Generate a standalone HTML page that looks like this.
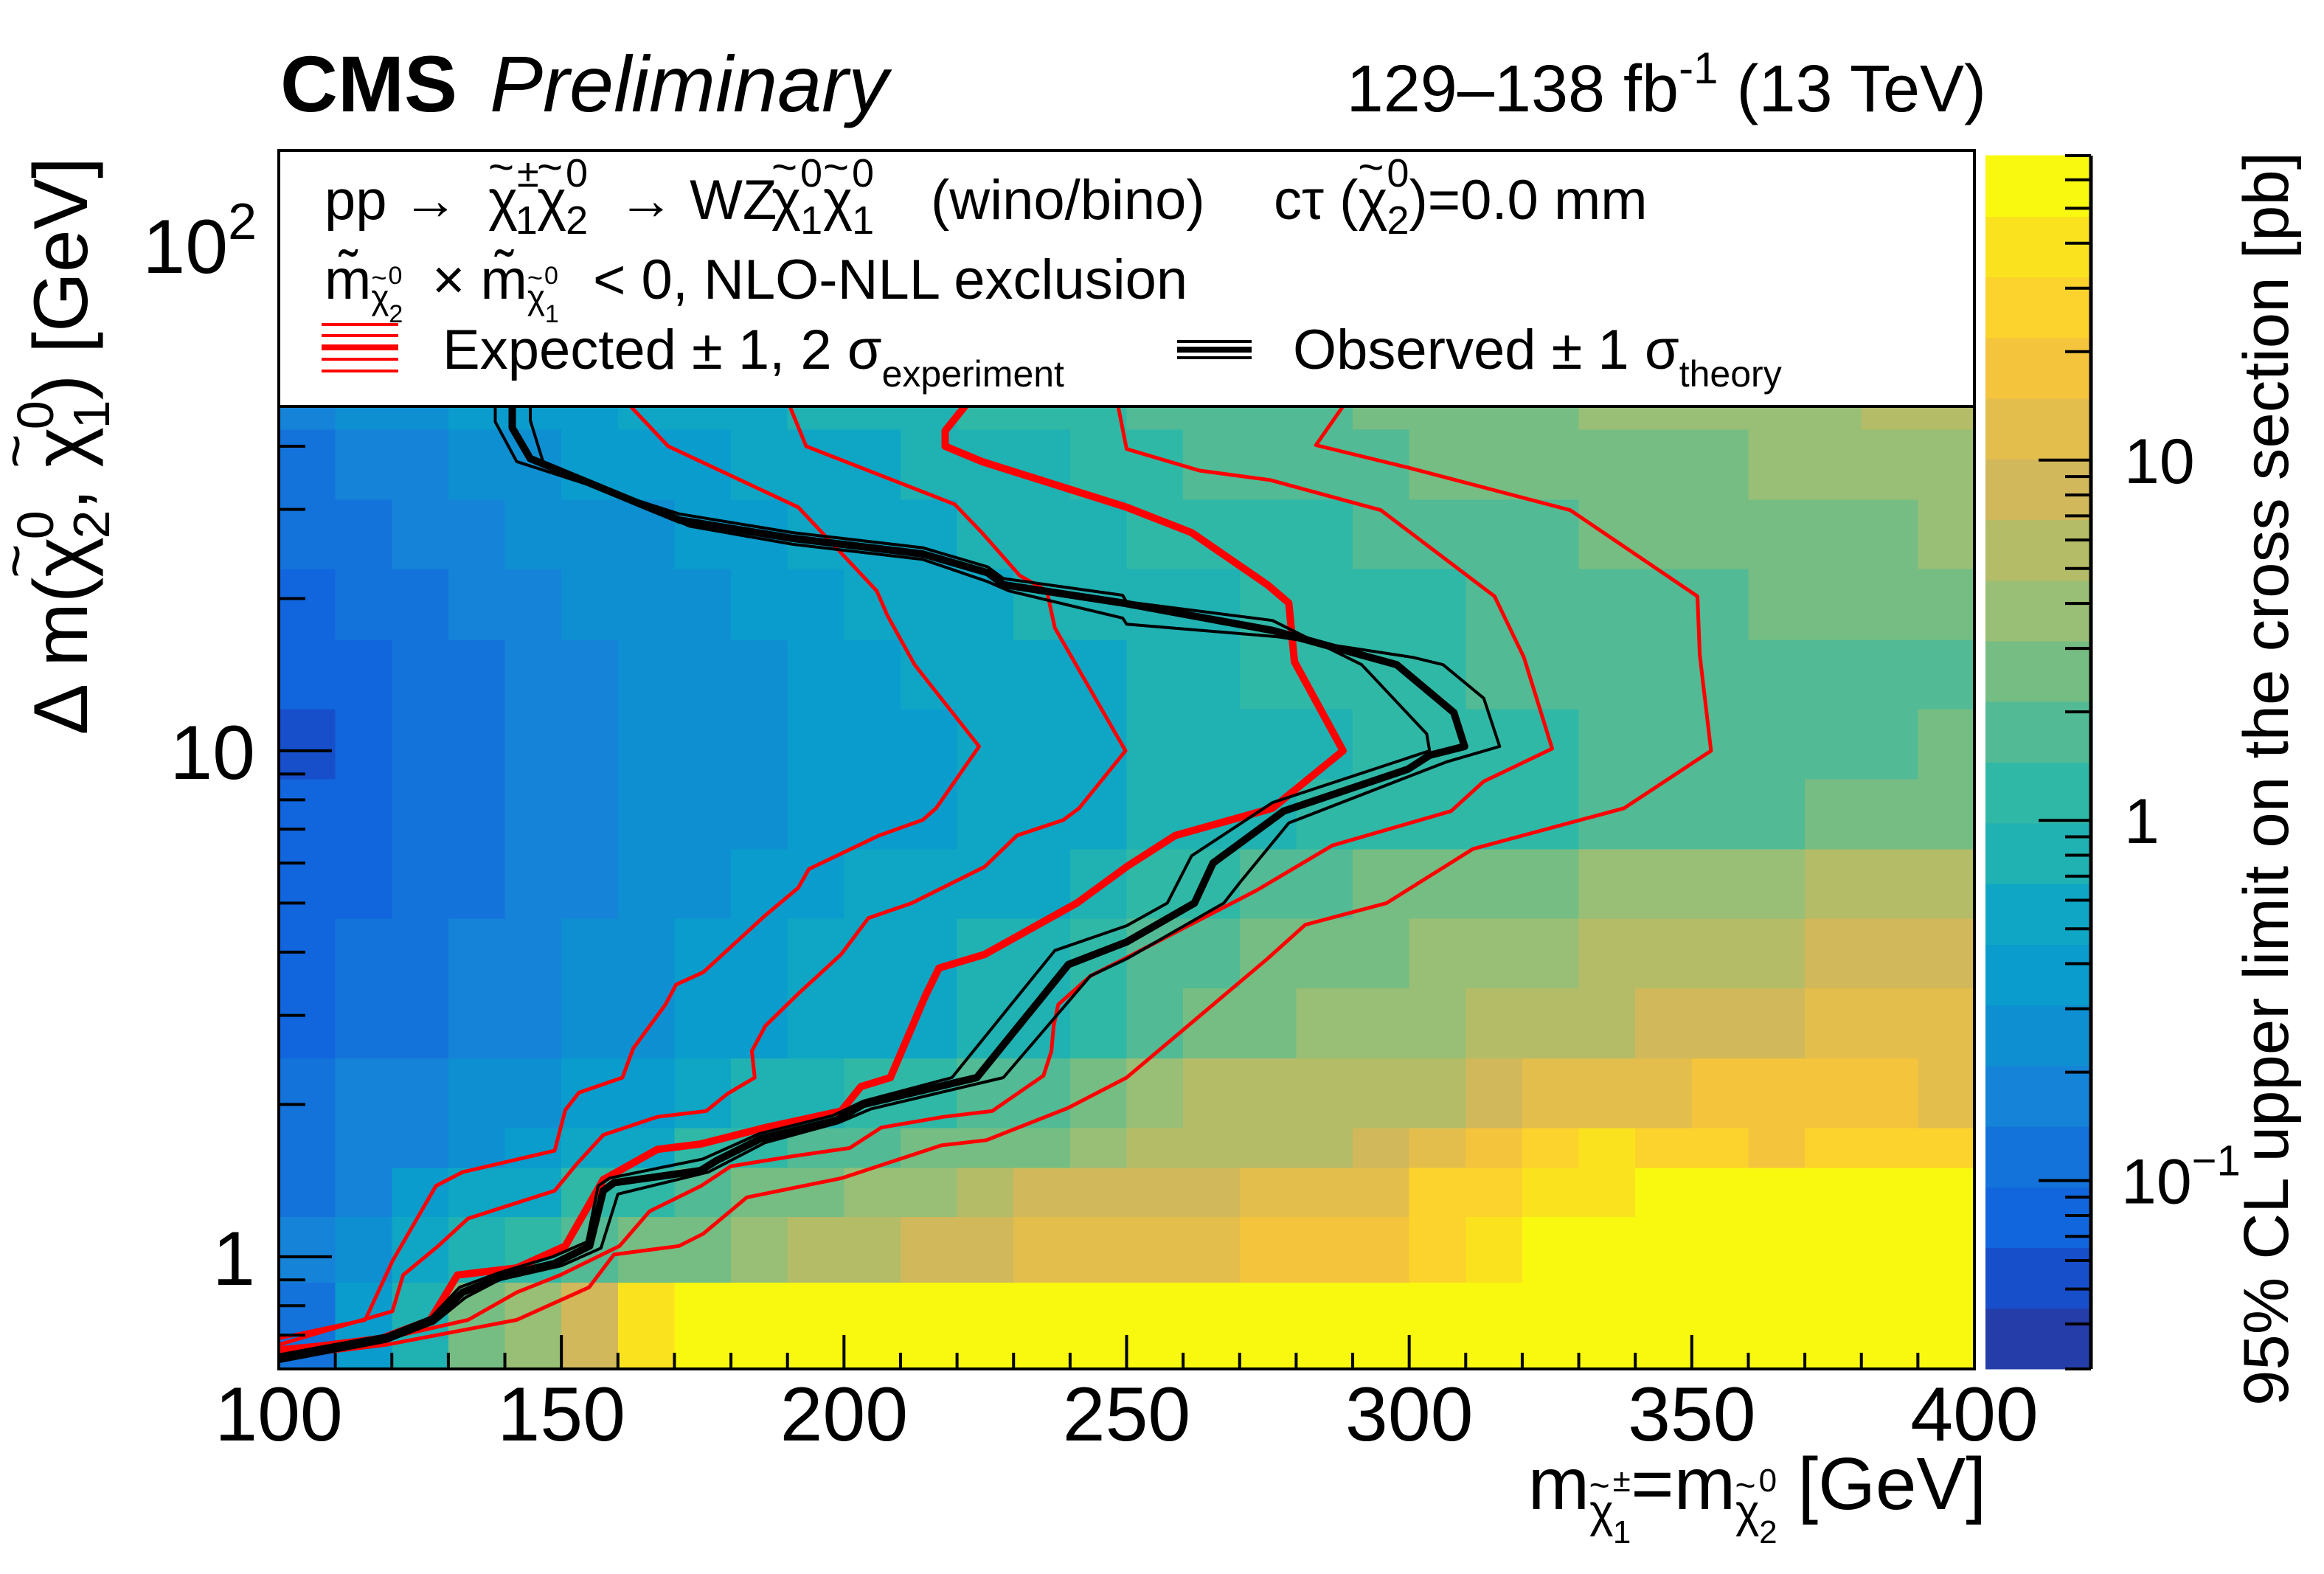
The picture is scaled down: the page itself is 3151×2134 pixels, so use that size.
<!DOCTYPE html>
<html><head><meta charset="utf-8"><title>CMS Preliminary wino/bino exclusion</title>
<style>
html,body{margin:0;padding:0;background:#fff;}
svg{display:block;font-family:"Liberation Sans",Arial,sans-serif;}
</style></head>
<body>
<svg id="chart" xmlns="http://www.w3.org/2000/svg" width="3151" height="2134" viewBox="0 0 3151 2134">
<defs><clipPath id="plotClip"><rect x="378" y="551" width="2299" height="1305"/></clipPath></defs>
<rect x="0" y="0" width="3151" height="2134" fill="#fff"/>
<g id="heatmap" clip-path="url(#plotClip)" shape-rendering="crispEdges"></g>
<g id="curves" clip-path="url(#plotClip)" fill="none" stroke-linejoin="round" stroke-linecap="round"></g>
<g id="axes"></g>
<rect x="378" y="204" width="2299" height="1652" fill="none" stroke="#000" stroke-width="4"/>
<g id="colorbar" shape-rendering="crispEdges"></g>
<g id="cbaxis"></g>

<rect x="378" y="204" width="2299" height="347" fill="#fff" stroke="#000" stroke-width="4"/>
<g font-size="76" fill="#000">
  <text x="440" y="297">pp →</text>
  <text x="662" y="297">χ<tspan dx="-40" dy="-50" font-size="60">~</tspan><tspan font-size="54" dx="4" dy="6">±</tspan><tspan font-size="54" dx="-32" dy="64">1</tspan></text>
  <text x="728" y="297">χ<tspan dx="-40" dy="-50" font-size="60">~</tspan><tspan font-size="54" dx="4" dy="6">0</tspan><tspan font-size="54" dx="-30" dy="64">2</tspan></text>
  <text x="838" y="297">→ WZ</text>
  <text x="1046" y="297">χ<tspan dx="-40" dy="-50" font-size="60">~</tspan><tspan font-size="54" dx="4" dy="6">0</tspan><tspan font-size="54" dx="-30" dy="64">1</tspan></text>
  <text x="1116" y="297">χ<tspan dx="-40" dy="-50" font-size="60">~</tspan><tspan font-size="54" dx="4" dy="6">0</tspan><tspan font-size="54" dx="-30" dy="64">1</tspan></text>
  <text x="1262" y="297">(wino/bino)</text>
  <text x="1727" y="297">cτ (χ<tspan dx="-40" dy="-50" font-size="60">~</tspan><tspan font-size="54" dx="4" dy="6">0</tspan><tspan font-size="54" dx="-30" dy="64">2</tspan><tspan dy="-20">)=0.0 mm</tspan></text>
  <text x="440" y="405">m̃<tspan font-size="46" dy="14">χ</tspan><tspan dx="-24" dy="-30" font-size="36">~</tspan><tspan font-size="34" dx="2" dy="-4">0</tspan><tspan font-size="34" dx="-18" dy="52">2</tspan></text>
  <text x="586" y="405">× m̃<tspan font-size="46" dy="14">χ</tspan><tspan dx="-24" dy="-30" font-size="36">~</tspan><tspan font-size="34" dx="2" dy="-4">0</tspan><tspan font-size="34" dx="-18" dy="52">1</tspan></text>
  <text x="804" y="405">&lt; 0, NLO-NLL exclusion</text>
  <g stroke="#ff0000">
    <line x1="436" x2="540" y1="440" y2="440" stroke-width="4"/>
    <line x1="436" x2="540" y1="455" y2="455" stroke-width="4"/>
    <line x1="436" x2="540" y1="471" y2="471" stroke-width="8"/>
    <line x1="436" x2="540" y1="487" y2="487" stroke-width="4"/>
    <line x1="436" x2="540" y1="503" y2="503" stroke-width="4"/>
  </g>
  <text x="600" y="500">Expected ± 1, 2 σ<tspan font-size="50" dy="24">experiment</tspan></text>
  <g stroke="#000">
    <line x1="1596" x2="1697" y1="463" y2="463" stroke-width="4"/>
    <line x1="1596" x2="1697" y1="474" y2="474" stroke-width="8"/>
    <line x1="1596" x2="1697" y1="485" y2="485" stroke-width="4"/>
  </g>
  <text x="1753" y="500">Observed ± 1 σ<tspan font-size="50" dy="24">theory</tspan></text>
</g>

<text x="380" y="151" font-size="108" font-weight="bold">CMS</text>
<text x="664" y="151" font-size="108" font-style="italic">Preliminary</text>
<text x="2693" y="151" font-size="90" text-anchor="end">129–138 fb<tspan font-size="60" dy="-38">-1</tspan><tspan dy="38"> (13 TeV)</tspan></text>

<text x="2693" y="2046" font-size="100" text-anchor="end">m<tspan font-size="62" dy="24">χ</tspan><tspan dx="-33" dy="-40" font-size="48">~</tspan><tspan font-size="44" dx="4" dy="-8">±</tspan><tspan font-size="44" dx="-24" dy="70">1</tspan><tspan dy="-46">=m</tspan><tspan font-size="62" dy="24">χ</tspan><tspan dx="-33" dy="-40" font-size="48">~</tspan><tspan font-size="44" dx="4" dy="-8">0</tspan><tspan font-size="44" dx="-24" dy="70">2</tspan><tspan dy="-46"> [GeV]</tspan></text>

<text transform="translate(118,213) rotate(-90)" x="0" y="0" font-size="104" text-anchor="end">Δ m(χ<tspan dx="-56" dy="-70" font-size="80">~</tspan><tspan font-size="70" dx="6" dy="24">0</tspan><tspan font-size="70" dx="-38" dy="76">2</tspan><tspan dy="-30">, χ</tspan><tspan dx="-56" dy="-70" font-size="80">~</tspan><tspan font-size="70" dx="6" dy="24">0</tspan><tspan font-size="70" dx="-38" dy="76">1</tspan><tspan dy="-30">) [GeV]</tspan></text>

<text transform="translate(3102,1056) rotate(-90)" x="0" y="0" font-size="86" text-anchor="middle" textLength="1700" lengthAdjust="spacingAndGlyphs">95% CL upper limit on the cross section [pb]</text>
</svg>

<script>
// ---------------- data ----------------
const xBinEdges = [100,110,120,130,140,150,160,170,180,190,200,210,220,230,240,250,260,270,280,290,300,310,320,330,340,350,360,370,380,390,400];
const yBinEdges = [0.6,0.89,1.2,1.5,1.8,2.47,3.4,4.67,6.4,8.8,12.1,16.6,22.9,31.4,43.2,59.3];
// 95% CL upper limits [pb]; row 0 = lowest Δm bin
const limitGrid = [
 [0.11,0.34,0.73,2.3,3.4,7.3,34,60,60,60,60,60,60,60,60,60,60,60,60,60,60,60,60,60,60,60,60,60,60,60],
 [0.16,0.23,0.5,0.73,1.1,1.6,2.3,2.3,3.4,5,5,7.3,7.3,11,11,11,11,16,16,16,23,34,60,60,60,60,60,60,60,60],
 [0.11,0.16,0.34,0.5,0.5,1.1,1.1,1.6,2.3,2.3,3.4,3.4,5,7.3,7.3,7.3,7.3,11,11,11,23,23,34,34,60,60,60,60,60,60],
 [0.11,0.16,0.16,0.23,0.34,0.5,0.5,1.1,1.1,1.6,1.6,2.3,2.3,2.3,3.4,5,5,5,5,7.3,11,16,23,34,23,23,16,23,23,23],
 [0.11,0.16,0.16,0.23,0.23,0.34,0.34,0.5,0.73,0.73,1.1,1.1,1.6,1.6,2.3,3.4,5,5,5,5,5,7.3,11,11,11,16,16,16,16,11],
 [0.073,0.11,0.11,0.16,0.16,0.23,0.23,0.34,0.34,0.5,0.5,0.5,0.73,0.73,1.1,1.6,2.3,2.3,3.4,3.4,3.4,5,5,5,7.3,7.3,7.3,11,11,11],
 [0.073,0.11,0.11,0.16,0.16,0.23,0.23,0.34,0.34,0.5,0.5,0.5,0.73,0.73,1.1,1.6,1.6,2.3,2.3,2.3,3.4,3.4,3.4,5,5,5,5,7.3,7.3,7.3],
 [0.073,0.073,0.11,0.11,0.16,0.16,0.23,0.23,0.34,0.34,0.5,0.5,0.5,0.5,0.73,1.1,1.1,1.6,1.6,2.3,2.3,2.3,2.3,3.4,3.4,3.4,3.4,5,5,5],
 [0.073,0.073,0.11,0.11,0.16,0.16,0.23,0.23,0.23,0.34,0.34,0.34,0.5,0.5,0.5,0.73,0.73,0.73,1.1,1.1,1.1,1.1,1.1,1.6,1.6,1.6,1.6,2.3,2.3,2.3],
 [0.05,0.073,0.11,0.11,0.16,0.16,0.23,0.23,0.23,0.34,0.34,0.34,0.5,0.5,0.5,0.73,0.73,0.73,0.73,1.1,1.1,1.1,1.1,1.6,1.6,1.6,1.6,1.6,1.6,2.3],
 [0.073,0.073,0.11,0.11,0.16,0.16,0.23,0.23,0.23,0.34,0.34,0.5,0.5,0.5,0.5,0.73,0.73,1.1,1.1,1.1,1.1,1.6,1.6,1.6,1.6,1.6,1.6,1.6,1.6,1.6],
 [0.073,0.11,0.11,0.16,0.16,0.23,0.23,0.23,0.34,0.34,0.5,0.5,0.5,0.73,0.73,0.73,0.73,1.1,1.1,1.1,1.1,1.6,1.6,1.6,1.6,1.6,2.3,2.3,2.3,2.3],
 [0.11,0.11,0.16,0.16,0.23,0.23,0.23,0.34,0.34,0.5,0.5,0.5,0.73,0.73,0.73,1.1,1.1,1.1,1.1,1.6,1.6,1.6,1.6,2.3,2.3,2.3,2.3,2.3,2.3,3.4],
 [0.11,0.16,0.16,0.23,0.23,0.34,0.34,0.34,0.5,0.5,0.5,0.73,0.73,0.73,1.1,1.1,1.6,1.6,1.6,1.6,2.3,2.3,2.3,2.3,2.3,2.3,3.4,3.4,3.4,3.4],
 [0.16,0.23,0.23,0.34,0.34,0.34,0.5,0.5,0.5,0.73,0.73,0.73,1.1,1.1,1.1,1.6,1.6,1.6,1.6,2.3,2.3,2.3,2.3,3.4,3.4,3.4,3.4,3.4,5,5]
];
const paletteColors = ['#253DA8','#174ECA','#1166DD','#1373DB','#1583D8','#0E8FD2','#099CCC','#0EA6C4','#20B1B2','#30B8A6','#52BA94','#76BD83','#99BE76','#B4BC67','#D1B85A','#E3BE4D','#F3C43C','#FCD22C','#FAE31E','#F8F90F'];
const zRange = [0.030, 70];

const obsCentral = [[141.3,60],[141.3,43.5],[144.5,37.8],[170.8,28.6],[190.9,26.3],[213.9,24.5],[225.4,22.5],[228.2,21.3],[249.3,19.6],[275.8,17.3],[297.8,14.8],[307.9,11.9],[309.8,10.2],[303.6,9.8],[299.8,9.2],[277.8,7.6],[265.3,6.0],[262,5.0],[250,4.19],[239.7,3.78],[223.5,2.26],[203.4,2.0],[198.6,1.86],[185.2,1.71],[177.5,1.55],[174.6,1.48],[159.3,1.40],[157.4,1.35],[155,1.05],[148.8,0.97],[140.2,0.92],[132.5,0.85],[127.3,0.75],[118.7,0.69],[100,0.63]];
const obsMinus = [[138.3,60],[138.3,44.7],[142.1,37.3],[170.8,29.4],[190.9,27.0],[213.9,25.2],[225.4,23.1],[228.2,21.9],[249.3,20.3],[250,19.7],[275.8,18.1],[291.6,14.8],[303.1,10.8],[303.6,10.0],[275.8,7.9],[261.5,6.2],[257.2,5.0],[250,4.51],[237.3,4.03],[219.1,2.26],[203.4,2.03],[198,1.90],[185,1.75],[175,1.56],[158.5,1.43],[156.5,1.38],[154.5,1.07],[148.5,1.0],[139,0.93],[132,0.87],[127,0.76],[119,0.70],[100,0.64]];
const obsPlus = [[144.5,60],[144.5,45],[146.9,36.8],[172.7,27.8],[190.9,25.6],[213.9,23.9],[225.4,21.6],[229.2,20.7],[249.3,18.3],[250,17.8],[276.8,16.8],[300.7,15.3],[306,14.8],[313.2,12.7],[316,10.2],[306.5,9.5],[278.7,7.2],[270.1,5.5],[267.2,5.0],[250,3.88],[243.6,3.59],[228.2,2.26],[204.8,1.96],[199,1.84],[186,1.68],[176,1.47],[160,1.33],[157,1.04],[150,0.96],[139,0.90],[133,0.83],[127.5,0.74],[119,0.68],[100,0.62]];
const expCentral = [[221.4,60],[221.4,48],[217.9,42.9],[217.9,40],[224.4,37.3],[250,30.3],[261.5,27],[274.9,21.3],[278.7,19.6],[279.7,15.0],[288.3,10.0],[275.8,7.7],[258.6,6.8],[250,5.9],[241.2,5.0],[224.9,3.96],[216.8,3.72],[214.4,3.28],[208.2,2.26],[203,2.17],[199.5,1.94],[186.1,1.80],[174.6,1.67],[167,1.63],[157.4,1.42],[150.7,1.05],[142.1,0.95],[131.6,0.92],[126.8,0.75],[118.2,0.69],[100,0.65]];
const expPlus1 = [[248.3,60],[248.5,48],[250,39.5],[262.9,35.8],[275.4,34.3],[295,29.9],[315.1,20.2],[320.3,15.3],[325.3,10.1],[313.2,8.7],[307.4,7.6],[286.4,6.5],[273,5.3],[250,3.9],[243.6,3.59],[237.9,3.15],[237.1,2.86],[236.7,2.55],[235.3,2.28],[226.2,1.94],[217.6,1.89],[206.6,1.80],[201,1.64],[190.9,1.58],[180,1.51],[174.7,1.38],[165.6,1.23],[160.3,1.05],[149.8,0.92],[142.1,0.85],[133.5,0.75],[119.1,0.69],[100,0.66]];
const expPlus2 = [[290,60],[288.3,48],[283.5,40.2],[299.8,36.3],[328.5,29.9],[351,20.2],[351.4,15.5],[353.4,10.0],[338,7.7],[311.3,6.4],[296,5.0],[281.6,4.53],[274.9,3.88],[250,2.26],[239.7,1.97],[225.2,1.70],[217.2,1.66],[199.6,1.43],[182.8,1.31],[175.1,1.11],[170.8,1.05],[159.3,1.01],[154.9,0.87],[142.1,0.75],[119.1,0.67],[100,0.63]];
const expMinus1 = [[190,60],[190.4,48],[193.3,40],[219.6,30.7],[224.4,27.0],[231.1,22.2],[235.9,20.7],[237.3,17.5],[249.8,10.0],[241.6,7.7],[238.8,7.3],[230.6,6.8],[224.9,5.9],[212,5.0],[204.3,4.67],[199.5,3.96],[191.9,3.31],[186.1,2.86],[183.7,2.55],[184.2,2.26],[179.4,2.10],[175.6,1.94],[167,1.89],[157.4,1.74],[152.6,1.52],[148.8,1.35],[133.5,1.19],[128.2,1.05],[122,0.92],[120.1,0.78],[114.8,0.75],[100,0.67]];
const expMinus2 = [[155,60],[162.2,48],[168.9,40],[191.9,30.3],[205.8,20.7],[207.7,18.5],[212.5,14.8],[223.9,10.2],[216.3,7.7],[213.9,7.3],[206.2,6.8],[193.8,5.84],[191.9,5.36],[186.1,4.73],[175.1,3.65],[170.3,3.45],[168.4,3.15],[162.7,2.58],[160.8,2.26],[153.1,2.11],[150.7,1.95],[148.8,1.62],[132.5,1.47],[127.8,1.38],[120.1,0.98],[115.3,0.75],[100,0.69]];

const xTickMajor = [100,150,200,250,300,350,400];
const xTickLabels = ['100','150','200','250','300','350','400'];
const yTickMajor = [1,10,100];
const cbTickMajor = [0.1,1,10];

// ---------------- scales ----------------
const PX0=378, PX1=2677, PYB=1856, PYT=204, VIS_TOP=551;
const xMin=100, xMax=400, yMin=0.6, yMax=153.7;
function X(v){ return PX0 + (v-xMin)*(PX1-PX0)/(xMax-xMin); }
function Y(v){ return PYB - (Math.log10(v)-Math.log10(yMin))/(Math.log10(yMax)-Math.log10(yMin))*(PYB-PYT); }
const CBX0=2692, CBX1=2835, CBB=1856, CBT=211;
function CY(v){ return CBB - (Math.log10(v)-Math.log10(zRange[0]))/(Math.log10(zRange[1])-Math.log10(zRange[0]))*(CBB-CBT); }
function colorFor(z){
  const t=(Math.log10(z)-Math.log10(zRange[0]))/(Math.log10(zRange[1])-Math.log10(zRange[0]));
  let k=Math.floor(t*paletteColors.length);
  k=Math.max(0,Math.min(paletteColors.length-1,k));
  return paletteColors[k];
}
const NS='http://www.w3.org/2000/svg';
function mk(tag,parent){ const e=document.createElementNS(NS,tag); parent.appendChild(e); return e; }

// ---------------- heatmap ----------------
const hm=document.getElementById('heatmap');
for(let r=0;r<limitGrid.length;r++){
  const y0=Y(yBinEdges[r]), y1=Y(yBinEdges[r+1]);
  for(let c=0;c<limitGrid[r].length;c++){
    const x0=X(xBinEdges[c]), x1=X(xBinEdges[c+1]);
    const cell=mk('rect',hm);
    
    
    cell.setAttribute('x',x0.toFixed(1));
    cell.setAttribute('y',(y1-0.5).toFixed(1));
    cell.setAttribute('width',(x1-x0+1).toFixed(1));
    cell.setAttribute('height',(y0-y1+1).toFixed(1));
    cell.setAttribute('fill',colorFor(limitGrid[r][c]));
  }
}

// ---------------- curves ----------------
const cv=document.getElementById('curves');
function drawCurve(pts,color,width,name){
  const p=mk('polyline',cv);
  
  
  p.setAttribute('points',pts.map(q=>X(q[0]).toFixed(1)+','+Y(q[1]).toFixed(1)).join(' '));
  p.setAttribute('stroke',color);
  p.setAttribute('stroke-width',width);
}
drawCurve(expMinus2,'#ff0000',5,'expected-minus-2sigma');
drawCurve(expMinus1,'#ff0000',5,'expected-minus-1sigma');
drawCurve(expPlus1,'#ff0000',5,'expected-plus-1sigma');
drawCurve(expPlus2,'#ff0000',5,'expected-plus-2sigma');
drawCurve(expCentral,'#ff0000',10,'expected-central');
drawCurve(obsMinus,'#000000',4,'observed-minus-1sigma');
drawCurve(obsPlus,'#000000',4,'observed-plus-1sigma');
drawCurve(obsCentral,'#000000',10,'observed-central');

// ---------------- axes ----------------
const ax=document.getElementById('axes');
function line(parent,x1,y1,x2,y2,w,name){
  const l=mk('line',parent);
  
  
  l.setAttribute('x1',x1); l.setAttribute('y1',y1); l.setAttribute('x2',x2); l.setAttribute('y2',y2);
  l.setAttribute('stroke','#000'); l.setAttribute('stroke-width',w);
}
function label(parent,x,y,txt,size,anchor,name){
  const t=mk('text',parent);
  
  
  t.setAttribute('x',x); t.setAttribute('y',y);
  t.setAttribute('font-size',size); t.setAttribute('text-anchor',anchor);
  t.textContent=txt;
  return t;
}
for(let v=xMin; v<=xMax; v+=10){
  const major = xTickMajor.indexOf(v)>=0;
  line(ax,X(v),PYB,X(v),PYB-(major?46:22),4,major?'x-major-tick':'x-minor-tick');
}
xTickMajor.forEach((v,i)=>{ label(ax,X(v),1953,xTickLabels[i],104,'middle','x-tick-label'); });
for(let d=-1; d<=2; d++){
  for(let m=1; m<=9; m++){
    const v=m*Math.pow(10,d);
    if(v<yMin-1e-9||v>yMax) continue;
    const yy=Y(v);
    if(yy<VIS_TOP) continue;
    const major=(m===1);
    line(ax,PX0,yy,PX0+(major?72:36),yy,4,major?'y-major-tick':'y-minor-tick');
  }
}
label(ax,346,Y(1)+38,'1',104,'end','y-tick-label');
label(ax,346,Y(10)+38,'10',104,'end','y-tick-label');
const t100=label(ax,348,Y(100)+38,'10',104,'end','y-tick-label');
const sup100=mk('tspan',t100);


sup100.setAttribute('font-size','70'); sup100.setAttribute('dy','-46');
sup100.textContent='2';

// ---------------- colorbar ----------------
const cb=document.getElementById('colorbar');
const nB=paletteColors.length;
for(let k=0;k<nB;k++){
  const zLo=Math.pow(10,Math.log10(zRange[0])+k*(Math.log10(zRange[1])-Math.log10(zRange[0]))/nB);
  const zHi=Math.pow(10,Math.log10(zRange[0])+(k+1)*(Math.log10(zRange[1])-Math.log10(zRange[0]))/nB);
  const b=mk('rect',cb);
  
  
  b.setAttribute('x',CBX0); b.setAttribute('y',(CY(zHi)-0.5).toFixed(1));
  b.setAttribute('width',CBX1-CBX0); b.setAttribute('height',(CY(zLo)-CY(zHi)+1).toFixed(1));
  b.setAttribute('fill',paletteColors[k]);
}
const cba=document.getElementById('cbaxis');
line(cba,CBX1,CBT,CBX1,CBB,5,'colorbar-axis-line');
for(let d=-2; d<=1; d++){
  for(let m=1;m<=9;m++){
    const v=m*Math.pow(10,d);
    if(v<zRange[0]||v>zRange[1]) continue;
    const major=(m===1);
    line(cba,CBX1,CY(v),CBX1-(major?71:35),CY(v),4,major?'colorbar-major-tick':'colorbar-minor-tick');
  }
}
label(cba,2880,CY(10)+31,'10',86,'start','colorbar-tick-label');
label(cba,2880,CY(1)+31,'1',86,'start','colorbar-tick-label');
const tm1=label(cba,2876,CY(0.1)+31,'10',86,'start','colorbar-tick-label');
const supm1=mk('tspan',tm1);


supm1.setAttribute('font-size','58'); supm1.setAttribute('dy','-38');
supm1.textContent='−1';
</script>
</body></html>
